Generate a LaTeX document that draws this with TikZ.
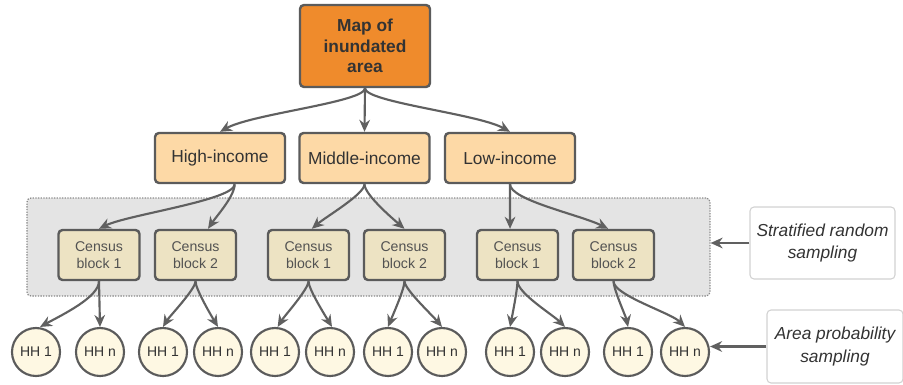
\documentclass[tikz,border=0pt]{standalone}
\usepackage{fontspec}
\setmainfont{Liberation Sans}
\usetikzlibrary{arrows.meta}
\definecolor{maporange}{HTML}{EF8B2C}
\definecolor{incfill}{HTML}{FDD9A6}
\definecolor{cbfill}{HTML}{EDE3C3}
\definecolor{hhfill}{HTML}{FEF8E3}
\definecolor{boxline}{HTML}{5B5B5B}
\definecolor{linkgray}{HTML}{606060}
\definecolor{stratfill}{HTML}{E4E4E4}
\definecolor{stratline}{HTML}{8A8A8A}
\definecolor{noteline}{HTML}{D2D2D2}
\definecolor{txt}{HTML}{333333}
\begin{document}
\begin{tikzpicture}[>={Stealth[length=9pt,width=8pt]},x=0.75pt,y=0.75pt,
	mapbox/.style={draw=boxline,line width=1.8pt,rounded corners=3pt,fill=maporange,text=txt,align=center,minimum width=97.5pt,minimum height=61.5pt,font=\bfseries\fontsize{13}{15.4}\selectfont},
	incbox/.style={draw=boxline,line width=1.8pt,rounded corners=3pt,fill=incfill,text=txt,minimum width=97.5pt,minimum height=37.5pt,font=\fontsize{13}{15}\selectfont},
	cbbox/.style={draw=boxline,line width=1.8pt,rounded corners=3pt,fill=cbfill,text=txt!85,align=center,minimum width=60.75pt,minimum height=37.5pt,font=\fontsize{10.6}{12.75}\selectfont},
	hhnode/.style={circle,draw=boxline,line width=1.6pt,fill=hhfill,text=txt,minimum size=36pt,inner sep=0pt,font=\fontsize{10.5}{12}\selectfont},
	notebox/.style={draw=noteline,line width=0.8pt,rounded corners=3pt,fill=white,text=txt,align=center,font=\itshape\fontsize{13}{17}\selectfont},
	link/.style={->,draw=linkgray,line width=1.6pt}]
	\useasboundingbox (0,0) rectangle (903,-385);
	% stratified sampling frame
	\node[draw=stratline,fill=stratfill,line width=0.9pt,dash pattern=on 1pt off 1pt,rounded corners=3pt,minimum width=512.25pt,minimum height=73.5pt] (strata) at (368.5,-247) {};
	% levels
	\node[mapbox] (map) at (365,-46) {Map of\\inundated\\area};
	\node[incbox] (high) at (220,-158) {High-income};
	\node[incbox] (mid) at (364.5,-158) {Middle-income};
	\node[incbox] (low) at (510,-158) {Low-income};
	\node[cbbox] (cbh1) at (99,-255) {Census\\block 1};
	\node[cbbox] (cbh2) at (195.5,-255) {Census\\block 2};
	\node[cbbox] (cbm1) at (308.5,-255) {Census\\block 1};
	\node[cbbox] (cbm2) at (404.5,-255) {Census\\block 2};
	\node[cbbox] (cbl1) at (517.5,-255) {Census\\block 1};
	\node[cbbox] (cbl2) at (613.5,-255) {Census\\block 2};
	\foreach \x/\n/\t in {36/1/1,100/2/n,163/3/1,218/4/n,275/5/1,330/6/n,388/7/1,442/8/n,510/9/1,565/10/n,628/11/1,685/12/n}
		\node[hhnode] (hh\n) at (\x,-352) {HH \t};
	% notes
	\node[notebox,minimum width=108.75pt,minimum height=54pt] (strat) at (822.5,-243) {Stratified random\\sampling};
	\node[notebox,minimum width=102pt,minimum height=54.75pt] (area) at (835,-346.5) {Area probability\\sampling};
	% map -> income
	\draw[link] (map.south) .. controls +(0,-14) and +(32,18) .. (high.north);
	\draw[link] (map.south) -- (mid.north);
	\draw[link] (map.south) .. controls +(0,-14) and +(-32,18) .. (low.north);
	% income -> census blocks
	\draw[link] ([xshift=11pt]high.south) .. controls +(0,-16) and +(28,14) .. (cbh1.north);
	\draw[link] ([xshift=11pt]high.south) .. controls +(0,-12) and +(8,12) .. ([xshift=9.4pt]cbh2.north);
	\draw[link] (mid.south) .. controls +(0,-10) and +(14,12) .. ([xshift=2.5pt]cbm1.north);
	\draw[link] (mid.south) .. controls +(0,-10) and +(-14,12) .. (cbm2.north);
	\draw[link] (low.south) -- ([xshift=-5.6pt]cbl1.north);
	\draw[link] (low.south) .. controls +(0,-16) and +(-28,14) .. ([xshift=-4pt]cbl2.north);
	% census blocks -> households
	\draw[link] (cbh1.south) .. controls +(0,-16) and +(22,12) .. ([xshift=3pt]hh1.north);
	\draw[link] (cbh1.south) -- (hh2.north);
	\draw[link] (cbh2.south) .. controls +(0,-8) and +(6,10) .. (hh3.north);
	\draw[link] (cbh2.south) .. controls +(0,-8) and +(-6,10) .. (hh4.north);
	\draw[link] (cbm1.south) .. controls +(0,-8) and +(6,10) .. ([xshift=2pt]hh5.north);
	\draw[link] (cbm1.south) .. controls +(0,-8) and +(-6,10) .. ([xshift=1.5pt]hh6.north);
	\draw[link] (cbm2.south) .. controls +(0,-8) and +(4,10) .. (hh7.north);
	\draw[link] (cbm2.south) .. controls +(0,-8) and +(-10,12) .. (hh8.north);
	\draw[link] (cbl1.south) .. controls +(0,-8) and +(2,10) .. (hh9.north);
	\draw[link] (cbl1.south) .. controls +(0,-12) and +(-12,12) .. (hh10.north);
	\draw[link] (cbl2.south) .. controls +(0,-8) and +(-2,10) .. (hh11.north);
	\draw[link] (cbl2.south) .. controls +(0,-14) and +(-14,14) .. (hh12.north);
	% notes -> levels
	\draw[link] (strat.west) -- (strat.west -| strata.east);
	\draw[link] (area.west) -- (area.west -| hh12.east);
\end{tikzpicture}
\end{document}
